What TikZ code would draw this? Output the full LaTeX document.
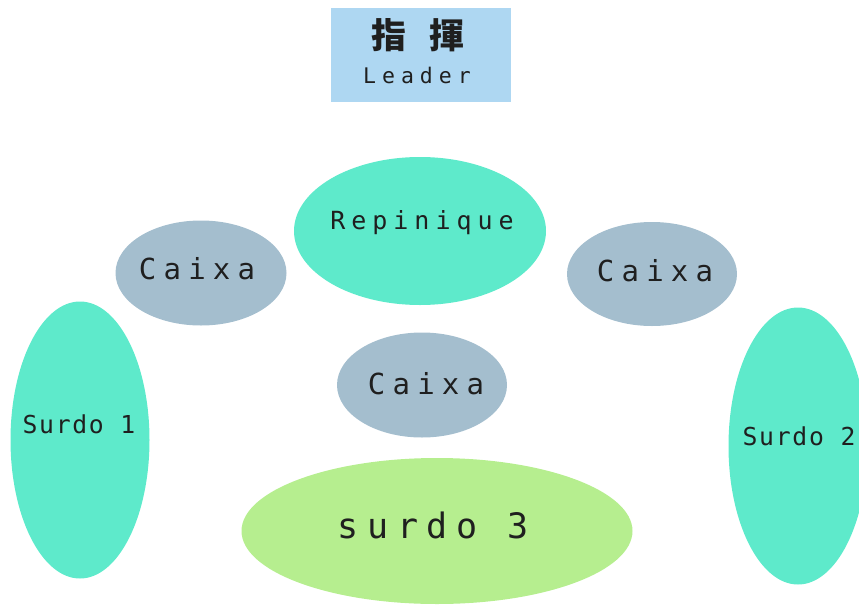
\documentclass[tikz,border=0pt]{standalone}
\usepackage{fontspec}
\usetikzlibrary{shapes.geometric}
\setmainfont{DejaVu Sans}
\newfontfamily\monoS[LetterSpace=7]{DejaVu Sans Mono}
\newfontfamily\monoC[LetterSpace=25]{DejaVu Sans Mono}
\newfontfamily\monoR[LetterSpace=24]{DejaVu Sans Mono}
\newfontfamily\monoT[LetterSpace=25]{DejaVu Sans Mono}
\newfontfamily\monoL[LetterSpace=28]{DejaVu Sans Mono}
\newfontfamily\cjkfnt{Noto Sans CJK TC}
\definecolor{boxblue}{HTML}{AED7F2}
\definecolor{turq}{HTML}{5EEACB}
\definecolor{caixac}{HTML}{A4BECE}
\definecolor{greenc}{HTML}{B6EE8F}
\tikzset{
  elli/.style={ellipse, inner sep=0pt, draw=none},
  lab/.style={inner sep=0pt, text=black!88},
  surdolab/.style={lab, font=\monoS\fontsize{24.7}{24.7}\selectfont},
  caixalab/.style={lab, font=\monoC\fontsize{29}{29}\selectfont},
}
\begin{document}
\begin{tikzpicture}[x=1pt,y=-1pt]
\useasboundingbox (0,0) rectangle (859,608);
\begin{scope}
\clip (0,0) rectangle (859,608);
\node[fill=boxblue, minimum width=180pt, minimum height=94pt, inner sep=0pt] (leader) at (421,55) {};
\node[lab, font=\cjkfnt\fontsize{35}{35}\selectfont\bfseries] (zh) at (418,35) {指\hspace{24pt}揮};
\node[lab, font=\monoL\fontsize{21.5}{21.5}\selectfont] (en) at (417,75) {Leader};

\node[elli, fill=turq, minimum width=252pt, minimum height=148pt] (rep) at (420,231) {};
\node[lab, font=\monoR\fontsize{25}{25}\selectfont] (replab) at (422,223) {Repinique};

\node[elli, fill=caixac, minimum width=171pt, minimum height=105pt] (cl) at (201,273) {};
\node[caixalab] (cllab) at (197,268.5) {Caixa};
\node[elli, fill=caixac, minimum width=170pt, minimum height=104pt] (cr) at (652,274) {};
\node[caixalab] (crlab) at (655,271) {Caixa};
\node[elli, fill=caixac, minimum width=170pt, minimum height=105pt] (cm) at (422,385) {};
\node[caixalab] (cmlab) at (426,384) {Caixa};

\node[elli, fill=turq, minimum width=139pt, minimum height=277pt] (s1) at (80,440) {};
\node[surdolab] (s1lab) at (79,424) {Surdo 1};
\node[elli, fill=turq, minimum width=139pt, minimum height=277pt] (s2) at (798,446) {};
\node[surdolab] (s2lab) at (799,436) {Surdo 2};

\node[elli, fill=greenc, minimum width=391pt, minimum height=146pt] (s3) at (437,531) {};
\node[lab, font=\monoT\fontsize{35}{35}\selectfont] (s3lab) at (433,525) {surdo 3};
\end{scope}
\end{tikzpicture}
\end{document}
